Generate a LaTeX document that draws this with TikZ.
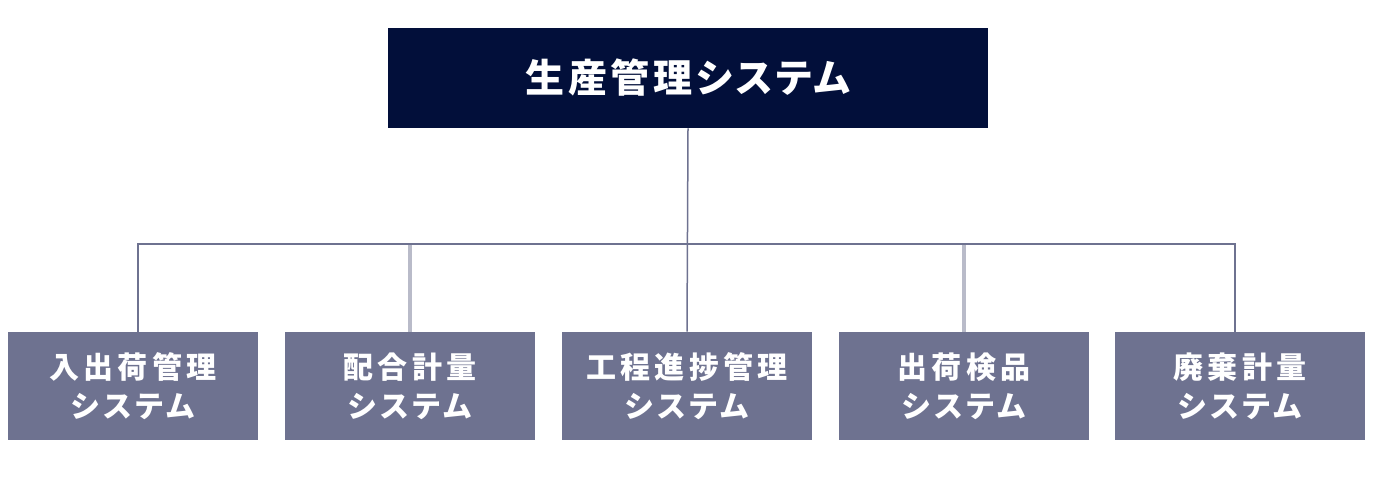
\documentclass[tikz,border=0pt]{standalone}
\usepackage{fontspec}
\newfontfamily\jptop{Noto Sans CJK JP}[LetterSpace=9,RawFeature=+palt]
\newfontfamily\jpsub{Noto Sans CJK JP}[LetterSpace=14,RawFeature=+palt]
\definecolor{navy}{HTML}{020F3A}
\definecolor{slate}{HTML}{6E7290}
\definecolor{lightline}{HTML}{B9BBC9}
\tikzset{
  topbox/.style={fill=navy, text=white, minimum width=300pt, minimum height=50pt, inner sep=0pt,
    font=\jptop\bfseries\fontsize{19.5}{22}\selectfont},
  subbox/.style={fill=slate, text=white, minimum width=125pt, minimum height=54pt, inner sep=0pt,
    align=center, font=\jpsub\bfseries\fontsize{15}{19.5}\selectfont},
  mainline/.style={draw=slate, line width=0.75pt},
  lightbranch/.style={draw=lightline, line width=1.6pt}
}
\begin{document}
\begin{tikzpicture}[x=0.5pt,y=-0.5pt]
\useasboundingbox (0,0) rectangle (1380,492);
\node[topbox] (top) at (688,78) {生産管理システム\hspace{-1.75pt}};
\node[subbox] (b1) at (133,386) {入出荷管理\hspace{-2.1pt}\\システム\hspace{-2.1pt}};
\node[subbox] (b2) at (410,386) {配合計量\hspace{-2.1pt}\\システム\hspace{-2.1pt}};
\node[subbox] (b3) at (687,386) {工程進捗管理\hspace{-2.1pt}\\システム\hspace{-2.1pt}};
\node[subbox] (b4) at (964,386) {出荷検品\hspace{-2.1pt}\\システム\hspace{-2.1pt}};
\node[subbox] (b5) at (1240,386) {廃棄計量\hspace{-2.1pt}\\システム\hspace{-2.1pt}};
\coordinate (j1) at (138,244);
\coordinate (j5) at (1235,244);
\draw[lightbranch] (b2.north) -- (b2.north |- j1);
\draw[lightbranch] (b4.north) -- (b4.north |- j1);
\draw[mainline] (b1.north -| j1) -- (j1) -- (j5) -- (b5.north -| j5);
\draw[mainline] (top.south) -- (b3.north);
\end{tikzpicture}
\end{document}
